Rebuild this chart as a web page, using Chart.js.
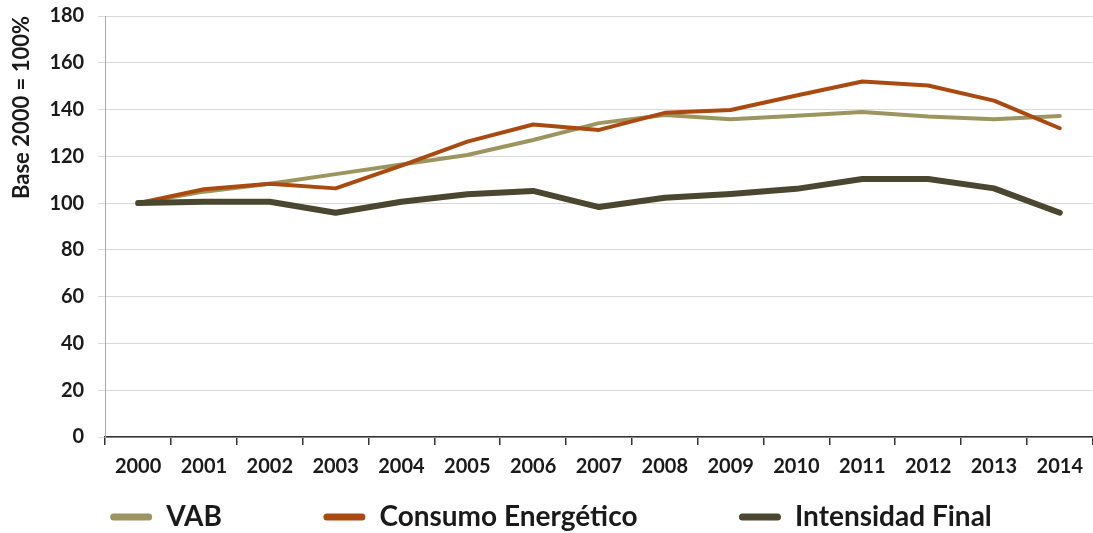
<!DOCTYPE html>
<html>
<head>
<meta charset="utf-8">
<script src="https://cdn.jsdelivr.net/npm/chart.js@4.4.1/dist/chart.umd.min.js"></script>
<style>
  html, body { margin: 0; padding: 0; background: #fff; overflow: hidden; }
</style>
</head>
<body>
<canvas id="chart" width="1093" height="533"></canvas>
<script>
const years = ['2000', '2001', '2002', '2003', '2004', '2005', '2006', '2007',
    '2008', '2009', '2010', '2011', '2012', '2013', '2014'];
const vab = [100, 104.9, 108.3, 112.4, 116.5, 120.6, 127.0, 134.2,
    137.7, 135.9, 137.3, 139.0, 137.0, 135.9, 137.2];
const consumo = [100, 105.9, 108.3, 106.3, 116.0, 126.3, 133.6, 131.3,
    138.6, 139.8, 146.0, 152.0, 150.3, 143.8, 132.0];
const intensidad = [100, 100.6, 100.6, 95.9, 100.6, 103.8, 105.2, 98.3,
    102.3, 103.9, 106.1, 110.3, 110.3, 106.3, 95.9];
const yTitle = 'Base 2000 = 100%';

const textColor = '#1a1a1a';
const font = 'Lato, "Open Sans", sans-serif';
// em spaces widen the gap between legend items without growing the legend height
const legendGap = '\u2003\u2003\u2003\u2003\u2009';

new Chart(document.getElementById('chart'), {
    type: 'line',
    data: {
        labels: years,
        datasets: [
            { label: 'VAB', data: vab, borderColor: '#9d9560', backgroundColor: '#9d9560', borderWidth: 4, order: 3 },
            { label: 'Consumo Energético', data: consumo, borderColor: '#ab4a10', backgroundColor: '#ab4a10', borderWidth: 4, order: 2 },
            { label: 'Intensidad Final', data: intensidad, borderColor: '#4a4630', backgroundColor: '#4a4630', borderWidth: 6, order: 1 }
        ]
    },
    options: {
        responsive: false,
        animation: false,
        devicePixelRatio: 1,
        elements: {
            point: { radius: 0 },
            line: { tension: 0, borderCapStyle: 'round', borderJoinStyle: 'round' }
        },
        layout: { padding: { left: 9, right: 0, top: 0, bottom: 0 } },
        plugins: {
            tooltip: { enabled: false },
            legend: {
                position: 'bottom',
                maxHeight: 44,
                labels: {
                    color: textColor,
                    font: { family: font, size: 28, weight: 'bold' },
                    boxWidth: 42,
                    boxHeight: 7,
                    useBorderRadius: true,
                    borderRadius: 3.5,
                    padding: 14,
                    generateLabels: chart => chart.data.datasets.map((ds, i, all) => ({
                        text: i < all.length - 1 ? ds.label + legendGap : ds.label,
                        fillStyle: ds.borderColor,
                        strokeStyle: ds.borderColor,
                        lineWidth: 0,
                        borderRadius: 3.5,
                        fontColor: textColor,
                        hidden: false,
                        datasetIndex: i
                    }))
                }
            }
        },
        scales: {
            x: {
                offset: true,
                border: { color: '#333', width: 1.5 },
                grid: { offset: true, drawOnChartArea: false, tickLength: 8, color: '#333', lineWidth: 1.5 },
                ticks: { color: textColor, padding: 10, font: { family: font, size: 20, weight: 'bold' }, maxRotation: 0 }
            },
            y: {
                min: 0,
                max: 180,
                border: { color: '#a6a6a6' },
                grid: { color: '#d9d9d9', tickLength: 7 },
                ticks: { stepSize: 20, color: textColor, padding: 14, font: { family: font, size: 20, weight: 'bold' } },
                // only half the top label is needed above the plot, not the tick padding too
                afterFit: scale => { scale.paddingTop = 16; },
                title: {
                    display: true,
                    text: yTitle,
                    align: 'end',
                    color: textColor,
                    font: { family: font, size: 22, weight: 'bold' },
                    padding: { top: 0, bottom: 0 }
                }
            }
        }
    }
});
</script>
</body>
</html>
